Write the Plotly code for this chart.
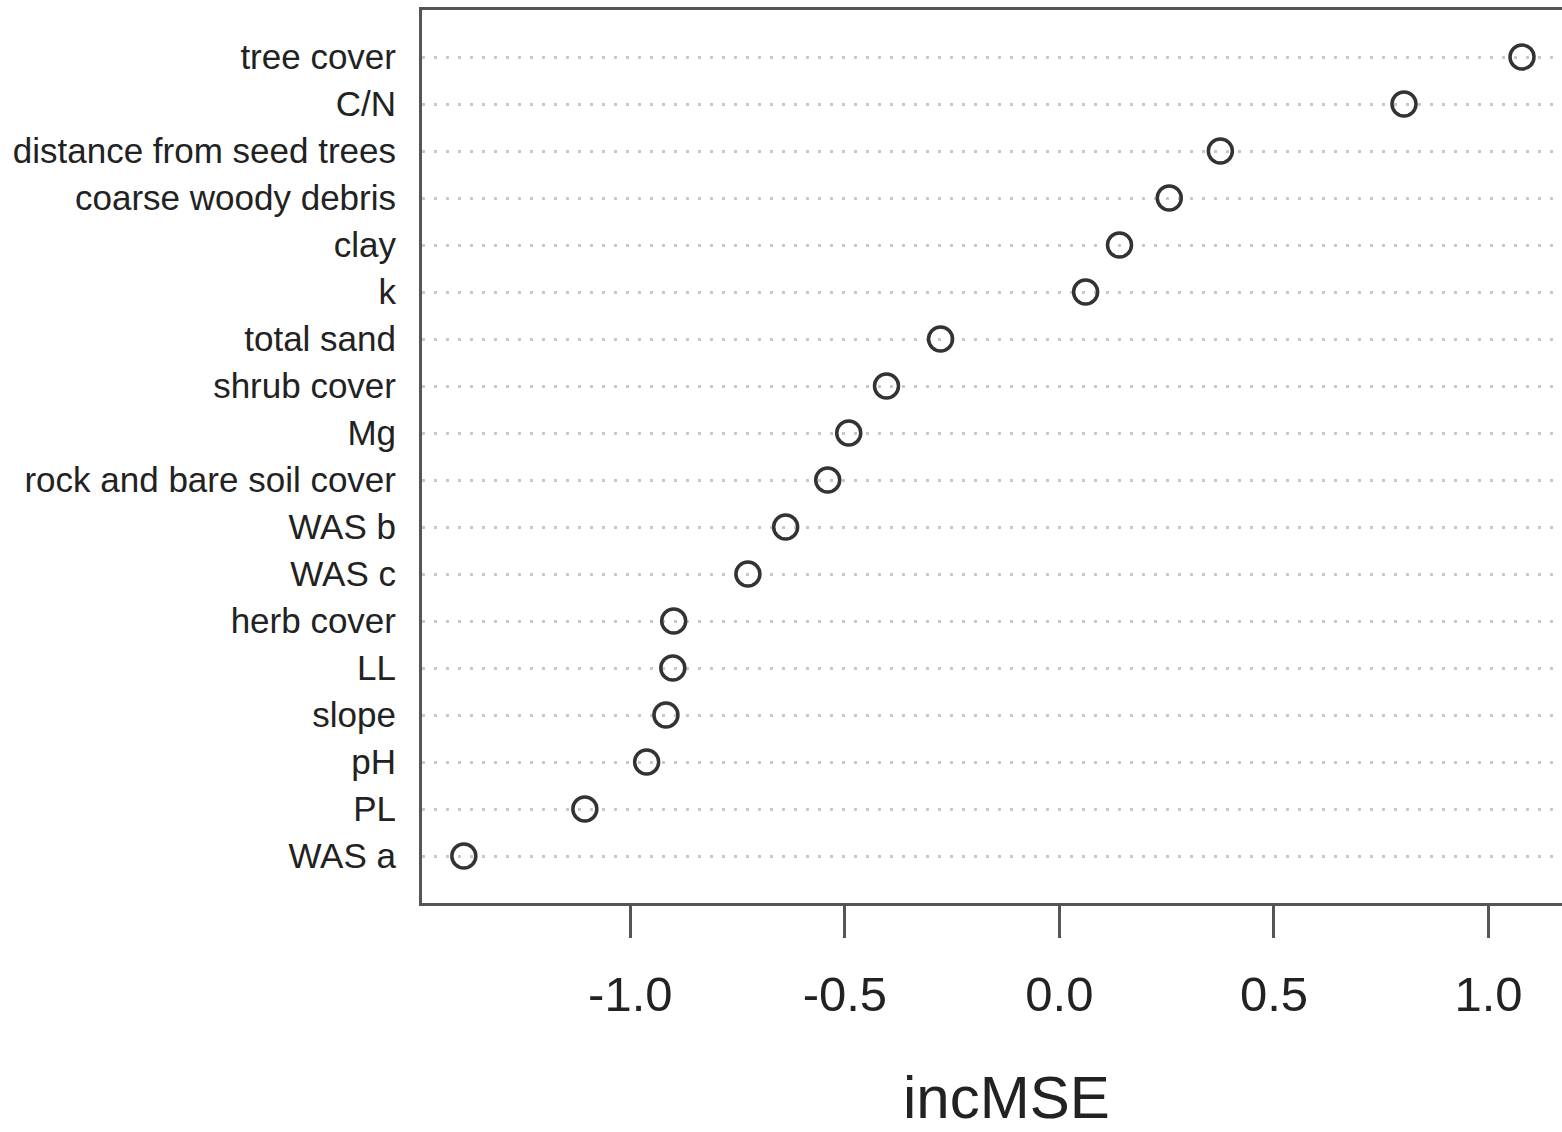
import plotly.graph_objects as go

# Variables ordered bottom -> top (as in the dot chart)
variables = ["WAS a", "PL", "pH", "slope", "LL", "herb cover", "WAS c", "WAS b",
             "rock and bare soil cover", "Mg", "shrub cover", "total sand", "k",
             "clay", "coarse woody debris", "distance from seed trees", "C/N",
             "tree cover"]
inc_mse = [-1.388, -1.106, -0.962, -0.917, -0.901, -0.899, -0.726, -0.638,
           -0.540, -0.491, -0.403, -0.277, 0.061, 0.140, 0.256, 0.375, 0.803,
           1.078]
x_ticks = [-1.0, -0.5, 0.0, 0.5, 1.0]
x_tick_labels = ["-1.0", "-0.5", "0.0", "0.5", "1.0"]

FONT = "Liberation Sans, Arial, sans-serif"
AXC = "#555555"

fig = go.Figure(
    go.Scatter(
        x=inc_mse,
        y=variables,
        mode="markers",
        marker=dict(symbol="circle-open", size=24, color="#333333",
                    line=dict(width=3.5, color="#333333")),
        showlegend=False,
        cliponaxis=False,
    )
)

fig.update_layout(
    width=1562,
    height=1132,
    margin=dict(l=422, r=0, t=10, b=229),
    plot_bgcolor="white",
    paper_bgcolor="white",
    font=dict(family=FONT, color="#222222"),
    xaxis=dict(
        range=[-1.4855, 1.1712],
        tickvals=x_ticks,
        ticktext=x_tick_labels,
        ticks="outside",
        ticklen=32,
        tickwidth=3,
        tickcolor=AXC,
        tickfont=dict(size=49, family=FONT, color="#222222"),
        ticklabelstandoff=14,
        showline=True,
        linewidth=3,
        linecolor=AXC,
        mirror=True,
        showgrid=False,
        zeroline=False,
    ),
    yaxis=dict(
        type="category",
        categoryorder="array",
        categoryarray=variables,
        range=[-1, 18],
        ticks="",
        tickfont=dict(size=35, family=FONT, color="#222222"),
        ticklabelstandoff=16,
        showline=True,
        linewidth=3,
        linecolor=AXC,
        mirror=False,
        showgrid=True,
        gridcolor="#c8c8c8",
        gridwidth=2.5,
        griddash="3px,9px",
        zeroline=False,
    ),
    annotations=[
        dict(text="incMSE", xref="paper", yref="paper", x=0.513, y=-0.218,
             xanchor="center", yanchor="middle", showarrow=False,
             font=dict(size=60, family=FONT, color="#222222"))
    ],
)

fig.write_html(
    "out.html",
    config={"displayModeBar": False},
    post_script="document.body.style.margin='0px';document.body.style.overflow='hidden';",
)
